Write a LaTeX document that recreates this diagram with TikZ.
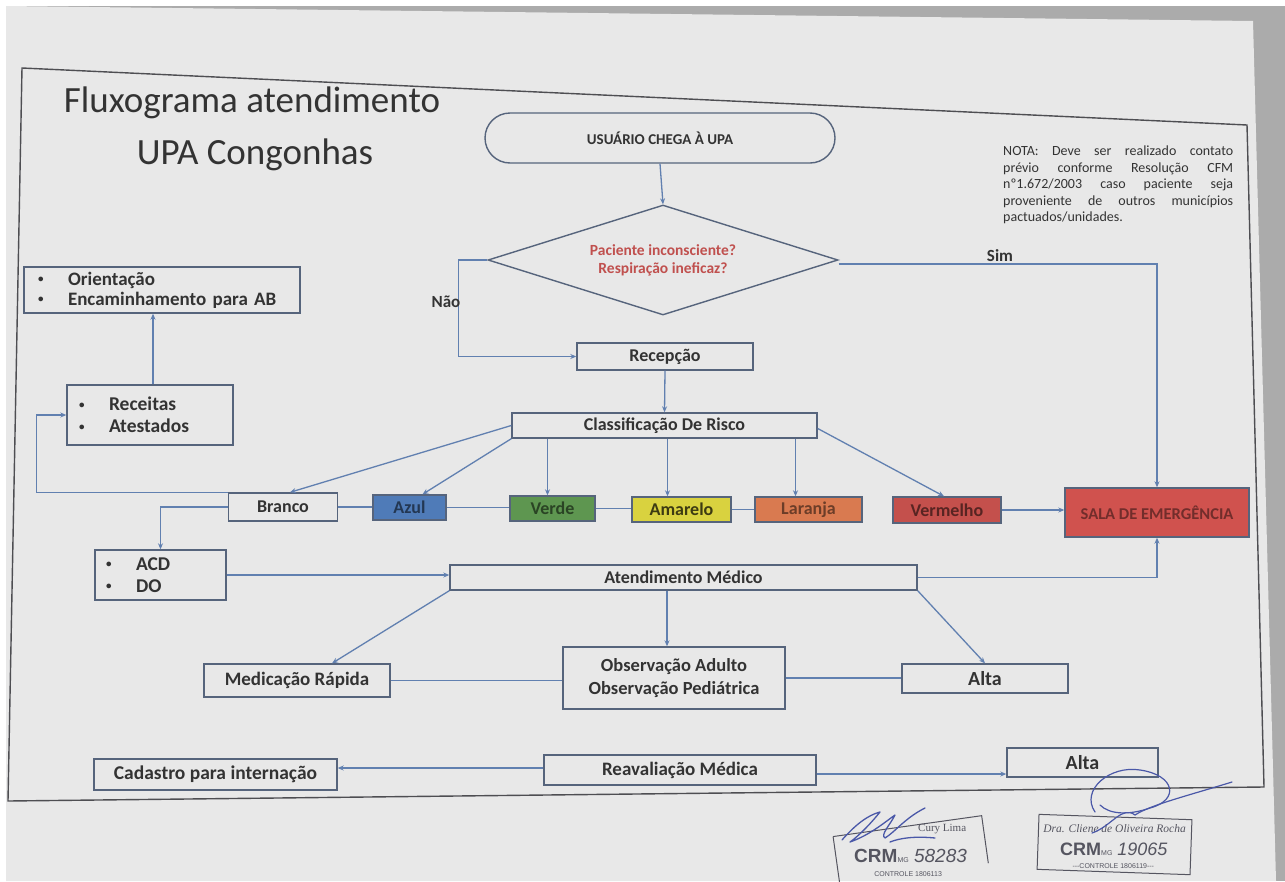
\documentclass[tikz,border=0pt]{standalone}
\usepackage{fontspec}
\setmainfont{Carlito}
\newfontfamily\stampsans{Liberation Sans}
\newfontfamily\stampserif{Liberation Serif}
\usetikzlibrary{arrows.meta,shapes.geometric,calc}
\definecolor{paper}{HTML}{E8E8E8}
\definecolor{outside}{HTML}{ABABAB}
\definecolor{framec}{HTML}{4E4E52}
\definecolor{boxc}{HTML}{56647C}
\definecolor{lnc}{HTML}{6180B0}
\definecolor{txt}{HTML}{333333}
\definecolor{redt}{HTML}{C0504E}
\definecolor{azulf}{HTML}{4F7BB8}
\definecolor{verdef}{HTML}{5E9650}
\definecolor{amarelof}{HTML}{D9D23F}
\definecolor{laranjaf}{HTML}{D97A50}
\definecolor{vermelhof}{HTML}{C4504C}
\definecolor{salaf}{HTML}{D0524E}
\definecolor{sigc}{HTML}{4A58A8}
\definecolor{stampc}{HTML}{555560}
\tikzset{
  bx/.style={draw=boxc, line width=1.4pt, fill=paper, inner sep=0pt, text=txt,
    font=\fontsize{18}{21}\selectfont\bfseries},
  blist/.style={bx, align=left, inner ysep=0pt,
    font=\fontsize{19.5}{22}\selectfont\bfseries},
  conn/.style={draw=lnc, line width=1.3pt},
  arr/.style={conn, -{Stealth[length=6pt,width=5pt]}},
  lbl/.style={text=txt, font=\fontsize{17}{20}\selectfont\bfseries},
}
\newcommand{\bul}{\makebox[30pt][l]{\raisebox{0.25ex}{\fontsize{11}{11}\selectfont\textbullet}}}
\begin{document}
\begin{tikzpicture}[x=1pt,y=-1pt]
\useasboundingbox (0,0) rectangle (1285,881);
% background and paper
\fill[white] (0,0) rectangle (1285,881);
\fill[outside] (6,6) rectangle (1285,881);
\fill[paper] (6,6) -- (1253,21) -- (1276,881) -- (6,881) -- cycle;
% frame
\draw[framec, line width=1.4pt] (22,68) -- (1247,125) -- (1264,787) -- (8,801) -- cycle;
% title
\node[anchor=base, text=txt, font=\fontsize{37}{40}\selectfont] (t1) at (252,112) {Fluxograma atendimento};
\node[anchor=base, text=txt, font=\fontsize{37}{40}\selectfont] (t2) at (255,164) {UPA Congonhas};
% note
\node[anchor=north west, inner sep=0pt, text width=230pt, align=justify, text=txt,
  font=\fontsize{14}{16.5}\selectfont] (nota) at (1003,146)
  {NOTA: Deve ser realizado contato\linebreak prévio conforme Resolução CFM\linebreak nº1.672/2003 caso paciente seja\linebreak proveniente de outros municípios\linebreak pactuados/unidades.};
% start and decision
\node[bx, rounded corners=25pt, minimum width=350pt, minimum height=50pt,
  font=\fontsize{15}{17}\selectfont\bfseries] (start) at (660,138) {USUÁRIO CHEGA À UPA};
\node[bx, diamond, aspect=3.2, minimum width=350pt, minimum height=110pt, align=center,
  text=redt, font=\fontsize{15.5}{18}\selectfont\bfseries] (dia) at (663,260)
  {Paciente inconsciente?\\Respiração ineficaz?};
% main boxes
\node[bx, minimum width=176pt, minimum height=27pt] (recep) at (665,356.5) {Recepção};
\node[bx, minimum width=305pt, minimum height=25pt] (class) at (664.5,425.5) {Classificação De Risco};
\node[bx, minimum width=109pt, minimum height=28pt] (branco) at (283,507) {Branco};
\node[bx, fill=azulf, text=black!55!azulf, minimum width=73pt, minimum height=25pt] (azul) at (409.5,507.5) {Azul};
\node[bx, fill=verdef, text=black!55!verdef, minimum width=85pt, minimum height=25pt] (verde) at (552.5,508.5) {Verde};
\node[bx, fill=amarelof, text=black!72!amarelof, minimum width=99pt, minimum height=25pt] (amarelo) at (681.5,509.5) {Amarelo};
\node[bx, fill=laranjaf, text=black!50!laranjaf, minimum width=107pt, minimum height=25pt] (laranja) at (808.5,509.5) {Laranja};
\node[bx, fill=vermelhof, text=black!55!vermelhof, minimum width=108pt, minimum height=26pt] (vermelho) at (947,510) {Vermelho};
\node[bx, fill=salaf, text=black!45!salaf, minimum width=184pt, minimum height=49pt,
  font=\fontsize{16.5}{19}\selectfont\bfseries] (sala) at (1157,512.5) {SALA DE EMERGÊNCIA};
\node[blist, text width=248pt, inner xsep=14pt, minimum height=46pt,
  font=\fontsize{19}{20}\selectfont\bfseries] (orient) at (162,290)
  {\bul Orientação\\\bul Encaminhamento para AB};
\node[blist, text width=142pt, inner xsep=12pt, minimum height=60pt] (receitas) at (150,415)
  {\bul Receitas\\\bul Atestados};
\node[blist, text width=109pt, inner xsep=11pt, minimum height=50pt] (acd) at (160.5,575)
  {\bul ACD\\\bul DO};
\node[bx, minimum width=467pt, minimum height=25pt] (atend) at (683.5,577.5) {Atendimento Médico};
\node[bx, minimum width=186pt, minimum height=33pt, font=\fontsize{19}{22}\selectfont\bfseries] (medic) at (297,680.5) {Medicação Rápida};
\node[bx, minimum width=222pt, minimum height=62pt, align=center, font=\fontsize{18.5}{23}\selectfont\bfseries] (obs) at (674,678) {Observação Adulto\\Observação Pediátrica};
\node[bx, minimum width=166pt, minimum height=29pt, font=\fontsize{20}{22}\selectfont\bfseries] (alta1) at (985,678.5) {Alta};
\node[bx, minimum width=243pt, minimum height=31pt, font=\fontsize{19.5}{22}\selectfont\bfseries] (cad) at (215.5,774.5) {Cadastro para internação};
\node[bx, minimum width=272pt, minimum height=30pt, font=\fontsize{19}{22}\selectfont\bfseries] (reav) at (680,770) {Reavaliação Médica};
\node[bx, minimum width=151pt, minimum height=29pt, font=\fontsize{20}{22}\selectfont\bfseries] (alta2) at (1082.5,762.5) {Alta};
% connectors
\draw[arr] (start.south) -- (dia.north);
\draw[arr] (dia.west) -- ++(-29,0) |- (recep.west);
\node[lbl] (nao) at (446,302) {Não};
\draw[arr] ([yshift=-4pt]dia.east) -| (sala.north);
\node[lbl] (sim) at (1000,256) {Sim};
\draw[arr] (recep.south) -- (class.north);
\draw[arr] (class.west) -- ([xshift=7pt]branco.north);
\draw[arr] (class.south west) -- ([xshift=13pt]azul.north);
\draw[arr] ([xshift=-5pt]verde.north |- class.south) -- ([xshift=-5pt]verde.north);
\draw[arr] ([xshift=-14pt]amarelo.north |- class.south) -- ([xshift=-14pt]amarelo.north);
\draw[arr] ([xshift=-13pt]laranja.north |- class.south) -- ([xshift=-13pt]laranja.north);
\draw[arr] ([yshift=-3pt]class.east) -- ([xshift=-3pt]vermelho.north);
\draw[conn] (branco.east) -- (branco.east -| azul.west);
\draw[conn] (azul.east) -- (azul.east -| verde.west);
\draw[conn] (verde.east) -- (verde.east -| amarelo.west);
\draw[conn] (amarelo.east) -- (amarelo.east -| laranja.west);
\draw[arr] (vermelho.east) -- (vermelho.east -| sala.west);
\draw[arr] (branco.north west) -- ++(-191,0) |- (receitas.west);
\draw[arr] ([xshift=3pt]receitas.north) -- ([xshift=3pt]receitas.north |- orient.south);
\draw[arr] (branco.west) -| (acd.north);
\draw[arr] (acd.east) -- (acd.east -| atend.west);
\draw[arr] (atend.east) -| (sala.south);
\draw[arr] (atend.south west) -- ([xshift=35pt]medic.north);
\draw[arr] ([xshift=-7pt]obs.north |- atend.south) -- ([xshift=-7pt]obs.north);
\draw[arr] (atend.south east) -- (alta1.north);
\draw[conn] (medic.east) -- (medic.east -| obs.west);
\draw[conn] (obs.east) -- (obs.east -| alta1.west);
\draw[arr] ([yshift=2pt]reav.west) -- ([yshift=2pt]reav.west -| cad.east);
\draw[arr] ([yshift=-4pt]reav.east) -- ([yshift=-4pt]reav.east -| alta2.west);
% stamps
\begin{scope}[rotate around={8:(910,852)}]
  \draw[stampc, line width=1pt] (836,826) -- (986,826) -- (986,874);
  \draw[stampc, line width=1pt] (836,826) -- (836,890);
  \node[text=stampc, font=\stampserif\fontsize{11}{12}\selectfont] (s1a) at (945,834) {Cury Lima};
  \node[text=stampc, font=\stampsans\fontsize{19}{20}\selectfont] (s1b) at (910,856) {\textbf{CRM}{\fontsize{7}{8}\selectfont MG} \textit{58283}};
  \node[text=stampc, font=\stampsans\fontsize{7}{8}\selectfont] (s1c) at (905,874) {CONTROLE 1806113};
\end{scope}
\begin{scope}[rotate around={-2:(1114,845)}]
  \draw[stampc, line width=1pt] (1038,817) rectangle (1191,872);
  \node[text=stampc, font=\stampserif\itshape\fontsize{11.5}{12}\selectfont] (s2a) at (1114,829) {Dra. Cliene de Oliveira Rocha};
  \node[text=stampc, font=\stampsans\fontsize{18}{20}\selectfont] (s2b) at (1114,849) {\textbf{CRM}{\fontsize{7}{8}\selectfont MG} \textit{19065}};
  \node[text=stampc, font=\stampsans\fontsize{7}{8}\selectfont] (s2c) at (1114,866) {---CONTROLE 1806119---};
\end{scope}
% signatures
\draw[sigc, line width=1.3pt, line cap=round, line join=round]
  (842,840) .. controls (855,825) and (868,815) .. (880,812)
  .. controls (872,822) and (860,835) .. (850,842)
  .. controls (870,835) and (885,822) .. (895,815)
  .. controls (890,825) and (880,835) .. (885,838)
  .. controls (895,832) and (905,818) .. (925,808);
\draw[sigc, line width=1.3pt, line cap=round]
  (890,842) .. controls (900,838) and (915,836) .. (935,838);
\draw[sigc, line width=1.2pt, line cap=round, line join=round]
  (1095,812) .. controls (1080,790) and (1110,765) .. (1140,770)
  .. controls (1175,775) and (1180,800) .. (1150,808)
  .. controls (1130,815) and (1110,815) .. (1100,805);
\draw[sigc, line width=1.2pt, line cap=round, line join=round]
  (1092,833) .. controls (1112,826) and (1122,805) .. (1135,815)
  .. controls (1150,805) and (1190,795) .. (1232,782);
\end{tikzpicture}
\end{document}
